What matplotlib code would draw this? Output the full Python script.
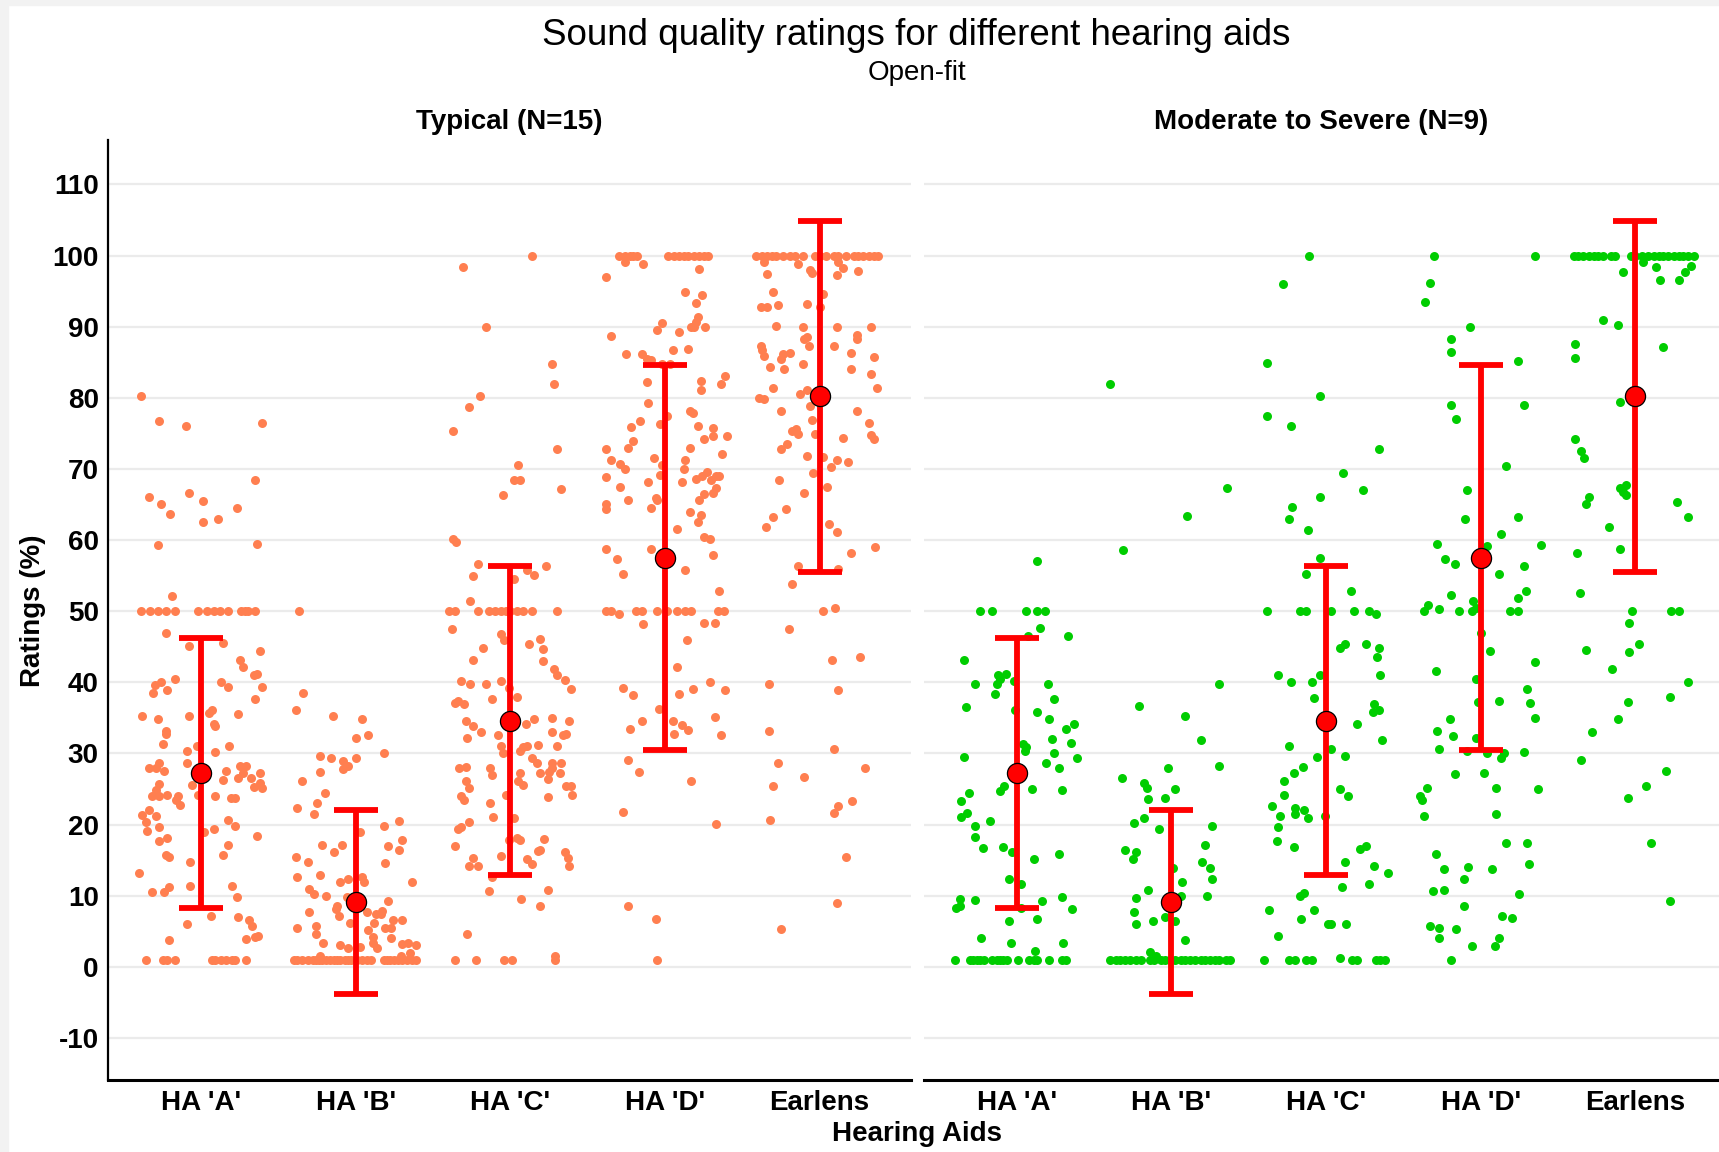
import numpy as np
import matplotlib.pyplot as plt
from matplotlib.patches import Rectangle

plt.rcParams['font.family'] = ['Liberation Sans', 'DejaVu Sans']

aids = ["HA 'A'", "HA 'B'", "HA 'C'", "HA 'D'", "Earlens"]
panels = ["Typical (N=15)", "Moderate to Severe (N=9)"]

# summary (same in both panels)
means = [27.2, 9.1, 34.6, 57.5, 80.2]
lower = [8.3, -3.8, 12.9, 30.5, 55.5]
upper = [46.2, 22.0, 56.3, 84.6, 104.9]

# individual ratings: (jitter, rating)
typ_A = [(-0.39, 80.3), (-0.27, 76.7), (-0.10, 76.1), (0.39, 76.4), (0.35, 68.5), (-0.34, 66.1),
         (-0.26, 65.1), (-0.08, 66.6), (0.01, 65.5), (-0.20, 63.7), (0.01, 62.6), (0.11, 62.9),
         (0.23, 64.5), (-0.28, 59.3), (0.36, 59.5), (-0.19, 52.2),
         (-0.39, 50), (-0.33, 50), (-0.28, 50), (-0.23, 50), (-0.17, 50), (-0.02, 50), (0.04, 50),
         (0.08, 50), (0.12, 50), (0.17, 50), (0.26, 50), (0.28, 50), (0.30, 50), (0.35, 50),
         (-0.23, 46.9), (-0.08, 45.1), (0.14, 45.6), (0.38, 44.4), (0.25, 43.2), (0.27, 42.1),
         (0.34, 41.0), (0.36, 41.2), (-0.17, 40.5), (-0.31, 38.5), (-0.30, 39.6), (-0.26, 40.1),
         (-0.22, 38.9), (0.13, 40.0), (0.17, 39.3), (0.39, 39.3), (0.35, 37.7), (-0.38, 35.3),
         (-0.28, 34.8), (-0.08, 35.3), (0.05, 35.7), (0.07, 36.1), (0.24, 35.6), (-0.23, 33.1),
         (-0.23, 32.7), (0.08, 34.2), (0.09, 33.8), (-0.25, 31.4), (-0.03, 31.1), (-0.09, 30.4),
         (0.09, 30.2), (0.18, 31.0), (-0.34, 27.9), (-0.29, 27.9), (-0.24, 27.5), (-0.27, 28.7),
         (-0.09, 28.6), (0.16, 27.6), (0.25, 28.3), (0.29, 28.3), (0.27, 27.3), (0.24, 26.5),
         (0.32, 26.5), (0.38, 27.2), (0.14, 26.3), (-0.06, 25.6), (-0.27, 25.7), (-0.29, 24.8),
         (-0.32, 24.0), (-0.27, 24.0), (-0.22, 24.2), (-0.15, 24.0), (-0.16, 23.4), (-0.14, 22.8),
         (-0.02, 24.2), (0.09, 24.0), (0.19, 23.8), (0.22, 23.7), (0.34, 25.3), (0.39, 25.1),
         (0.38, 25.8), (-0.34, 22.0), (-0.38, 21.3), (-0.36, 20.3), (-0.29, 21.2), (-0.35, 19.1),
         (-0.27, 19.6), (-0.27, 17.7), (-0.22, 18.1), (0.02, 18.9), (0.08, 19.4), (0.17, 20.7),
         (0.22, 19.8), (0.17, 17.2), (-0.23, 15.7), (-0.21, 15.5), (0.14, 15.7), (-0.07, 14.7),
         (0.36, 18.4), (-0.40, 13.2), (-0.32, 10.5), (-0.24, 10.5), (-0.21, 11.3), (-0.07, 11.4),
         (0.20, 11.4), (0.23, 9.8), (-0.09, 6.1), (0.06, 7.2), (0.24, 7.0), (0.31, 6.6),
         (0.33, 5.7), (-0.21, 3.8), (0.29, 3.9), (0.35, 4.2), (0.37, 4.4),
         (-0.36, 1), (-0.25, 1), (-0.22, 1), (-0.17, 1), (0.07, 1), (0.09, 1), (0.13, 1),
         (0.16, 1), (0.20, 1), (0.22, 1), (0.29, 1)]

typ_B = [(-0.37, 50), (-0.34, 38.5), (-0.39, 36.1), (-0.15, 35.3), (0.04, 34.8), (0.0, 32.2),
         (0.08, 32.6), (0.18, 30.0), (-0.23, 29.6), (-0.16, 29.3), (-0.08, 28.9), (-0.05, 28.2),
         (-0.08, 27.8), (0.0, 29.4), (-0.23, 27.4), (-0.35, 26.1), (-0.20, 24.4), (-0.25, 23.1),
         (-0.38, 22.4), (-0.27, 21.5), (0.18, 19.8), (0.28, 20.5), (0.03, 19.0), (0.30, 17.9),
         (-0.22, 17.2), (-0.09, 17.2), (0.21, 17.0), (-0.14, 16.1), (0.28, 16.5), (-0.39, 15.5),
         (-0.31, 14.8), (0.19, 14.6), (-0.23, 12.9), (-0.38, 12.7), (-0.10, 12.0), (-0.05, 12.4),
         (0.04, 12.6), (0.05, 12.0), (0.36, 12.0), (-0.30, 11.0), (-0.27, 10.2), (-0.19, 10.0),
         (-0.06, 9.8), (0.21, 9.3), (-0.12, 8.5), (-0.13, 8.1), (-0.11, 7.2), (0.07, 7.7),
         (0.13, 7.4), (0.17, 7.9), (0.16, 7.5), (-0.30, 7.7), (-0.04, 6.2), (0.12, 6.2),
         (0.24, 6.6), (0.30, 6.6), (-0.38, 5.4), (-0.26, 5.8), (0.08, 5.2), (0.19, 5.4),
         (0.23, 5.4), (-0.26, 4.6), (0.11, 4.2), (0.23, 4.0), (-0.21, 3.3), (-0.10, 3.1),
         (-0.05, 2.7), (0.03, 2.8), (0.11, 3.4), (0.14, 2.6), (0.30, 3.2), (0.34, 3.3),
         (0.39, 3.1), (0.35, 2.0), (-0.23, 1.6), (0.29, 1.6),
         (-0.40, 1), (-0.38, 1), (-0.35, 1), (-0.31, 1), (-0.28, 1), (-0.26, 1), (-0.24, 1),
         (-0.22, 1), (-0.19, 1), (-0.17, 1), (-0.14, 1), (-0.12, 1), (-0.10, 1), (-0.07, 1),
         (-0.05, 1), (-0.03, 1), (0.01, 1), (0.04, 1), (0.07, 1), (0.10, 1), (0.18, 1),
         (0.20, 1), (0.22, 1), (0.25, 1), (0.27, 1), (0.30, 1), (0.33, 1), (0.36, 1), (0.39, 1)]

typ_C = [(-0.31, 98.4), (0.14, 100), (-0.16, 90.0), (0.27, 84.7), (0.28, 81.9), (-0.20, 80.3),
         (-0.27, 78.7), (-0.37, 75.4), (0.30, 72.8), (0.05, 70.5), (0.02, 68.4), (0.06, 68.5),
         (-0.05, 66.3), (0.33, 67.2), (-0.37, 60.1), (-0.35, 59.8), (-0.21, 56.6), (-0.24, 54.9),
         (0.23, 56.4), (0.11, 55.8), (0.15, 55.1), (0.02, 54.6), (-0.26, 51.5),
         (-0.40, 50), (-0.36, 50), (-0.21, 50), (-0.14, 50), (-0.10, 50), (-0.06, 50),
         (-0.03, 50), (0.0, 50), (0.04, 50), (0.08, 50), (0.14, 50), (0.30, 50),
         (-0.38, 47.5), (-0.06, 46.8), (-0.04, 46.0), (0.19, 46.1), (-0.18, 44.9), (0.12, 45.4),
         (0.21, 44.7), (-0.24, 43.2), (0.21, 43.0), (0.28, 41.9), (0.30, 41.0), (0.35, 40.3),
         (0.39, 39.1), (-0.32, 40.2), (-0.26, 39.7), (-0.16, 39.8), (-0.06, 40.2), (-0.01, 39.2),
         (-0.12, 37.7), (0.04, 38.0), (-0.36, 37.1), (-0.34, 37.4), (-0.30, 36.9), (-0.29, 34.5),
         (-0.24, 33.8), (-0.19, 33.0), (-0.28, 32.2), (-0.08, 32.6), (0.10, 34.2), (0.15, 34.9),
         (0.27, 35.0), (0.27, 33.0), (0.34, 32.6), (0.36, 32.8), (0.38, 34.6), (-0.06, 31.1),
         (-0.05, 30.1), (0.06, 30.3), (0.08, 30.9), (0.11, 31.1), (0.18, 31.2), (0.30, 31.1),
         (0.14, 29.3), (0.17, 28.6), (0.19, 27.3), (0.27, 28.7), (0.27, 27.9), (0.25, 27.4),
         (0.33, 28.6), (0.32, 27.3), (-0.33, 27.9), (-0.29, 28.1), (-0.13, 27.9), (-0.12, 27.0),
         (0.06, 27.2), (-0.29, 26.1), (-0.27, 25.1), (0.05, 26.2), (0.08, 25.6), (0.24, 26.4),
         (0.36, 25.4), (0.39, 25.4), (0.40, 24.2), (-0.32, 24.0), (-0.30, 23.5), (-0.03, 24.2),
         (0.24, 23.9), (-0.13, 23.0), (-0.11, 21.1), (0.02, 20.9), (-0.27, 20.3), (-0.34, 19.4),
         (-0.32, 19.6), (-0.01, 17.8), (0.04, 18.1), (0.06, 17.9), (0.22, 18.0), (-0.36, 17.0),
         (-0.06, 15.6), (-0.24, 15.3), (0.18, 16.3), (0.19, 16.4), (0.35, 16.1), (0.37, 15.3),
         (-0.27, 14.2), (-0.21, 14.2), (0.11, 15.2), (0.14, 14.5), (0.38, 14.2), (-0.12, 12.6),
         (-0.14, 10.7), (0.07, 9.6), (0.24, 10.8), (0.19, 8.6), (-0.28, 4.6), (0.29, 1.6),
         (-0.36, 1), (-0.22, 1), (-0.04, 1), (0.01, 1), (0.29, 1)]

typ_D = [(-0.30, 100), (-0.26, 100), (-0.23, 100), (-0.21, 100), (-0.18, 100), (0.02, 100),
         (0.06, 100), (0.09, 100), (0.12, 100), (0.15, 100), (0.19, 100), (0.22, 100),
         (0.25, 100), (0.28, 100), (-0.26, 99.1), (-0.14, 98.8), (0.22, 98.1), (-0.38, 97.0),
         (0.13, 94.9), (0.24, 94.5), (0.20, 93.4), (0.21, 91.3), (0.20, 90.6), (-0.02, 90.5),
         (-0.05, 89.6), (0.17, 89.9), (0.19, 90.0), (0.26, 89.9), (0.09, 89.2), (-0.35, 88.7),
         (0.15, 86.9), (0.05, 86.7), (-0.25, 86.1), (-0.15, 86.1), (-0.12, 85.5), (-0.09, 85.3),
         (-0.02, 84.7), (0.03, 84.7), (-0.12, 82.2), (0.23, 82.3), (0.23, 81.1), (0.36, 82.0),
         (0.39, 83.0), (-0.11, 79.3), (0.01, 77.4), (0.16, 78.2), (0.18, 77.9), (-0.16, 76.7),
         (-0.22, 75.9), (-0.03, 76.3), (0.21, 76.0), (0.31, 75.7), (0.31, 74.6), (0.25, 74.2),
         (0.40, 74.6), (-0.21, 74.0), (-0.24, 73.0), (-0.38, 72.8), (0.16, 73.0), (-0.07, 71.6),
         (0.37, 72.1), (-0.35, 71.2), (-0.29, 70.7), (-0.26, 70.0), (0.13, 71.3), (0.12, 70.0),
         (-0.02, 70.5), (-0.38, 68.9), (-0.03, 69.1), (0.27, 69.6), (0.24, 69.0), (0.20, 68.6),
         (0.33, 69.0), (0.35, 69.0), (0.30, 68.5), (-0.29, 67.5), (-0.11, 68.1), (0.11, 68.1),
         (0.33, 67.3), (0.31, 66.6), (0.25, 66.5), (0.22, 65.7), (-0.38, 65.1), (-0.38, 64.4),
         (-0.24, 65.7), (-0.06, 65.9), (-0.05, 65.7), (-0.09, 64.5), (0.16, 64.0), (0.23, 63.5),
         (0.21, 62.5), (0.08, 61.6), (0.25, 60.5), (0.29, 60.1), (-0.38, 58.8), (-0.09, 58.8),
         (-0.31, 57.4), (-0.27, 55.2), (0.13, 55.8), (0.31, 57.9), (0.35, 52.9),
         (-0.38, 50), (-0.35, 50), (-0.19, 50), (-0.15, 50), (-0.05, 50), (0.01, 50),
         (0.08, 50), (0.13, 50), (0.17, 50), (0.34, 50), (0.38, 50), (-0.30, 49.6),
         (-0.14, 48.2), (0.25, 48.4), (0.32, 48.4), (0.14, 46.0), (0.08, 42.1), (-0.27, 39.2),
         (-0.21, 38.2), (0.09, 38.4), (0.18, 39.1), (0.29, 40.0), (0.39, 38.9), (-0.04, 36.3),
         (-0.23, 33.4), (-0.15, 34.6), (0.05, 34.6), (0.11, 34.0), (0.15, 33.3), (0.06, 32.8),
         (0.32, 35.2), (0.36, 32.6), (-0.24, 29.1), (-0.17, 27.4), (0.17, 26.1), (-0.27, 21.8),
         (0.33, 20.1), (-0.24, 8.6), (-0.06, 6.8), (-0.05, 1)]

typ_E = [(-0.41, 100), (-0.37, 100), (-0.34, 100), (-0.31, 100), (-0.28, 100), (-0.24, 100),
         (-0.19, 100), (-0.16, 100), (-0.11, 100), (-0.03, 100), (0.0, 100), (0.04, 100),
         (0.09, 100), (0.12, 100), (0.17, 100), (0.22, 100), (0.25, 100), (0.28, 100),
         (0.32, 100), (0.35, 100), (0.38, 100),
         (-0.36, 99.1), (-0.14, 98.8), (0.12, 99.1), (0.15, 98.3), (-0.06, 98.0), (-0.05, 97.5),
         (-0.34, 97.4), (0.11, 97.3), (0.25, 97.8), (0.02, 94.6), (-0.30, 94.9), (-0.27, 93.0),
         (-0.08, 93.2), (-0.38, 92.7), (-0.34, 92.7), (0.0, 92.7), (-0.28, 90.1), (-0.11, 89.9),
         (0.11, 89.9), (0.33, 89.9), (0.24, 88.9), (0.24, 88.2), (-0.10, 88.2), (-0.08, 88.6),
         (-0.07, 87.3), (0.09, 87.3), (-0.38, 87.3), (-0.37, 86.7), (-0.36, 85.9), (-0.24, 86.1),
         (-0.25, 85.4), (-0.19, 86.3), (0.20, 86.3), (0.35, 85.8), (-0.11, 84.7), (-0.32, 84.4),
         (-0.23, 84.0), (0.20, 84.0), (0.33, 83.3), (-0.30, 81.4), (0.37, 81.4), (-0.08, 81.1),
         (-0.13, 80.6), (-0.39, 80.0), (-0.36, 79.8), (-0.06, 78.8), (-0.25, 78.1), (0.24, 78.2),
         (-0.05, 76.9), (0.32, 76.4), (-0.18, 75.4), (-0.15, 75.6), (-0.14, 74.9), (-0.03, 74.9),
         (0.33, 74.8), (0.35, 74.2), (0.15, 74.3), (-0.21, 73.5), (-0.25, 72.8), (-0.08, 71.8),
         (0.02, 71.7), (0.11, 71.2), (0.18, 71.0), (0.07, 70.3), (-0.04, 69.4), (-0.26, 68.4),
         (0.05, 67.5), (-0.10, 66.6), (-0.22, 64.4), (-0.30, 63.2), (-0.35, 61.8), (0.06, 62.2),
         (0.11, 61.1), (0.36, 59.0), (0.20, 58.2), (-0.14, 56.4), (0.12, 56.0), (-0.18, 53.8),
         (0.02, 50.0), (0.10, 50.4), (-0.20, 47.5), (0.08, 43.2), (0.26, 43.5), (-0.33, 39.8),
         (0.12, 38.9), (-0.33, 33.2), (0.09, 30.6), (-0.27, 28.7), (-0.10, 26.7), (0.29, 27.9),
         (-0.30, 25.4), (-0.32, 20.7), (0.09, 21.6), (0.12, 22.6), (0.21, 23.3), (0.17, 15.5),
         (0.11, 9.0), (-0.25, 5.3)]

mod_A = [(0.13, 57.1), (-0.24, 50), (-0.16, 50), (0.06, 50), (0.13, 50), (0.18, 50),
         (0.15, 47.6), (0.07, 46.5), (0.33, 46.5), (-0.34, 43.2), (-0.12, 41.0), (-0.11, 40.5),
         (-0.07, 41.2), (-0.13, 39.8), (-0.14, 38.4), (-0.02, 40.2), (-0.27, 39.8), (0.20, 39.8),
         (0.24, 37.7), (-0.33, 36.5), (-0.01, 36.1), (0.13, 35.8), (0.21, 34.9), (0.32, 33.5),
         (0.37, 34.1), (0.35, 31.5), (0.23, 32.1), (0.04, 31.4), (0.06, 30.9), (0.05, 30.4),
         (0.24, 30.1), (0.39, 29.3), (-0.34, 29.5), (0.19, 28.6), (0.27, 27.9), (-0.08, 25.4),
         (-0.11, 24.7), (0.10, 25.0), (0.29, 24.8), (-0.31, 24.4), (-0.36, 23.3), (-0.32, 21.6),
         (-0.36, 21.1), (-0.27, 19.8), (-0.27, 18.3), (-0.17, 20.5), (-0.22, 16.7), (-0.09, 16.8),
         (-0.03, 16.1), (0.27, 15.9), (0.11, 15.2), (-0.05, 12.4), (0.03, 11.7), (-0.37, 9.6),
         (-0.39, 8.3), (-0.37, 8.5), (-0.27, 9.4), (0.29, 9.8), (0.16, 9.3), (0.36, 8.2),
         (0.03, 8.3), (-0.05, 6.5), (0.13, 6.8), (-0.23, 4.0), (-0.04, 3.3), (0.30, 3.4),
         (0.12, 2.3),
         (-0.40, 1), (-0.30, 1), (-0.28, 1), (-0.26, 1), (-0.24, 1), (-0.21, 1), (-0.16, 1),
         (-0.13, 1), (-0.11, 1), (-0.09, 1), (-0.06, 1), (0.01, 1), (0.08, 1), (0.11, 1),
         (0.13, 1), (0.21, 1), (0.29, 1), (0.32, 1)]

mod_B = [(-0.40, 82.0), (-0.31, 58.6), (0.10, 63.4), (0.36, 67.3), (-0.21, 36.7), (0.09, 35.3),
         (0.31, 39.7), (0.19, 31.9), (0.31, 28.3), (-0.02, 27.9), (-0.32, 26.5), (-0.18, 25.9),
         (-0.16, 25.1), (-0.15, 23.6), (0.02, 25.0), (-0.04, 23.8), (-0.24, 20.2), (-0.18, 20.9),
         (-0.08, 19.4), (0.26, 19.8), (0.22, 17.2), (-0.30, 16.4), (-0.23, 16.1), (-0.25, 15.2),
         (0.20, 14.7), (0.25, 13.9), (0.26, 12.4), (0.01, 13.9), (0.07, 12.0), (-0.15, 10.8),
         (0.06, 10.0), (0.23, 10.0), (-0.23, 9.7), (-0.24, 7.7), (-0.23, 6.1), (-0.04, 7.0),
         (0.02, 6.5), (-0.12, 6.4), (0.09, 3.8), (-0.14, 2.1), (-0.10, 1.5),
         (-0.40, 1), (-0.36, 1), (-0.33, 1), (-0.30, 1), (-0.27, 1), (-0.23, 1), (-0.20, 1),
         (-0.14, 1), (-0.11, 1), (-0.07, 1), (-0.04, 1), (-0.01, 1), (0.02, 1), (0.06, 1),
         (0.09, 1), (0.12, 1), (0.15, 1), (0.19, 1), (0.22, 1), (0.25, 1), (0.28, 1),
         (0.31, 1), (0.35, 1), (0.38, 1)]

mod_C = [(-0.11, 100), (-0.28, 96.0), (-0.38, 84.9), (-0.38, 77.5), (-0.23, 76.1), (-0.04, 80.3),
         (-0.04, 66.1), (-0.22, 64.7), (-0.24, 62.9), (-0.12, 61.4), (-0.04, 57.5), (-0.13, 55.3),
         (-0.38, 50), (-0.17, 50), (-0.13, 50.1), (-0.31, 41.1), (-0.23, 40.0), (-0.09, 40.0),
         (-0.08, 37.8), (-0.04, 41.1), (-0.24, 31.1), (-0.27, 26.2), (-0.21, 27.2), (-0.27, 24.2),
         (-0.15, 28.1), (-0.06, 29.5), (-0.35, 22.6), (-0.30, 21.2), (-0.31, 19.7), (-0.32, 17.7),
         (-0.20, 22.3), (-0.20, 21.5), (-0.14, 22.1), (-0.12, 20.9), (-0.21, 16.8), (-0.17, 10.0),
         (-0.14, 10.4), (-0.08, 8.0), (-0.37, 8.0), (-0.16, 6.8), (-0.31, 4.4),
         (-0.40, 1), (-0.24, 1), (-0.20, 1), (-0.13, 1), (-0.09, 1),
         (0.03, 50), (0.18, 50), (0.28, 50), (0.32, 49.6), (0.16, 52.8), (0.11, 69.5),
         (0.24, 67.0), (0.34, 72.8), (0.09, 44.9), (0.12, 45.4), (0.26, 45.4), (0.34, 44.9),
         (0.33, 43.5), (0.35, 41.0), (0.31, 36.9), (0.30, 35.8), (0.34, 36.1), (0.20, 34.2),
         (0.36, 31.9), (0.03, 30.6), (0.12, 29.6), (0.09, 25.0), (0.14, 24.0), (-0.01, 21.2),
         (0.26, 17.0), (0.22, 16.6), (0.12, 14.7), (0.31, 14.2), (0.40, 13.2), (0.28, 11.6),
         (0.10, 11.3), (0.03, 6.0), (0.01, 6.0), (0.13, 6.1), (0.09, 1.2), (0.17, 1),
         (0.20, 1), (0.32, 1), (0.35, 1), (0.38, 1)]

mod_D = [(-0.30, 100), (0.35, 100), (-0.33, 96.1), (-0.36, 93.5), (-0.07, 89.9), (-0.19, 88.3),
         (-0.19, 86.5), (0.24, 85.2), (-0.19, 79.0), (-0.16, 77.0), (0.28, 79.0), (0.16, 70.4),
         (-0.09, 67.0), (-0.10, 62.9), (0.24, 63.2), (0.13, 60.8), (-0.28, 59.5), (-0.23, 57.4),
         (-0.17, 56.7), (0.04, 59.1), (0.39, 59.3), (0.12, 55.3), (0.28, 56.4), (-0.19, 52.3),
         (-0.34, 50.9), (-0.37, 50), (-0.27, 50.3), (-0.14, 50), (-0.06, 50), (-0.05, 51.4),
         (-0.03, 50.5), (0.19, 50), (0.24, 50), (0.29, 52.9), (0.24, 51.9), (0.0, 47.0),
         (0.06, 44.4), (0.35, 42.8), (-0.29, 41.6), (-0.03, 40.5), (0.30, 39.1), (0.32, 37.1),
         (0.12, 37.4), (-0.02, 37.3), (0.35, 35.0), (-0.20, 34.9), (-0.28, 33.2), (-0.27, 30.6),
         (-0.18, 32.4), (-0.03, 32.2), (-0.09, 30.4), (0.04, 30.1), (0.13, 29.3), (0.15, 30.0),
         (0.28, 30.2), (-0.17, 27.1), (0.02, 27.2), (-0.39, 24.0), (-0.38, 23.5), (-0.35, 25.1),
         (-0.37, 21.2), (0.10, 25.1), (0.37, 25.0), (0.10, 21.5), (0.16, 17.4), (0.30, 17.4),
         (-0.29, 15.9), (-0.24, 13.7), (-0.08, 14.0), (-0.11, 12.4), (0.07, 13.7), (0.31, 14.4),
         (-0.31, 10.7), (-0.24, 10.8), (0.25, 10.3), (-0.11, 8.5), (0.14, 7.2), (0.20, 6.9),
         (-0.33, 5.8), (-0.27, 5.4), (-0.27, 4.0), (-0.16, 5.3), (0.12, 4.1), (-0.06, 3.0),
         (0.09, 3.0), (-0.19, 1)]

mod_E = [(-0.40, 100), (-0.37, 100), (-0.34, 100), (-0.30, 100), (-0.27, 100), (-0.24, 100),
         (-0.21, 100), (-0.16, 100), (-0.13, 100), (-0.03, 100), (0.0, 100), (0.04, 100),
         (0.08, 100), (0.12, 100), (0.15, 100), (0.18, 100), (0.21, 100), (0.25, 100),
         (0.28, 100), (0.31, 100), (0.34, 100), (0.38, 100),
         (0.05, 99.1), (0.13, 98.4), (0.36, 98.6), (0.32, 97.7), (-0.08, 97.7), (0.16, 96.5),
         (0.28, 96.5), (-0.21, 91.0), (-0.11, 90.2), (-0.39, 87.5), (-0.39, 85.6), (0.18, 87.1),
         (-0.10, 79.4), (-0.39, 74.2), (-0.35, 72.5), (-0.33, 71.6), (-0.10, 67.3), (-0.08, 66.8),
         (-0.06, 67.8), (-0.06, 66.3), (-0.30, 66.1), (-0.32, 65.1), (0.27, 65.3), (0.34, 63.3),
         (-0.17, 61.8), (-0.10, 58.8), (-0.38, 58.2), (-0.36, 52.5), (-0.02, 50), (0.23, 50),
         (0.28, 50), (-0.04, 48.4), (-0.32, 44.5), (0.02, 45.4), (-0.04, 44.2), (-0.15, 41.9),
         (0.34, 40.1), (0.22, 37.9), (-0.05, 37.2), (-0.11, 34.8), (-0.28, 33.0), (-0.35, 29.1),
         (0.20, 27.5), (0.07, 25.4), (-0.05, 23.7), (0.10, 17.4), (0.22, 9.3)]

typical = [typ_A, typ_B, typ_C, typ_D, typ_E]
moderate = [mod_A, mod_B, mod_C, mod_D, mod_E]
point_colors = ['#FF7F50', '#00CD00']

fig = plt.figure(figsize=(17.19, 11.52), dpi=100)
fig.patches.append(Rectangle((0, 0.9955), 1, 0.0045, transform=fig.transFigure,
                             color='#F2F2F2', zorder=0))
fig.patches.append(Rectangle((0, 0), 0.0045, 1, transform=fig.transFigure,
                             color='#F2F2F2', zorder=0))

ax1 = fig.add_axes([0.0631, 0.0625, 0.4668, 0.8157])
ax2 = fig.add_axes([0.5375, 0.0625, 0.4625, 0.8157])

xpos = np.arange(1, len(aids) + 1)
yerr = [np.array(means) - np.array(lower), np.array(upper) - np.array(means)]

fs = 20
for ax, groups, col, label in [(ax1, typical, point_colors[0], panels[0]),
                               (ax2, moderate, point_colors[1], panels[1])]:
    for i, grp in enumerate(groups):
        g = np.array(grp)
        ax.scatter(xpos[i] + g[:, 0], g[:, 1], s=42, color=col, linewidths=0, zorder=2)
    ax.errorbar(xpos, means, yerr=yerr, fmt='none', ecolor='red', elinewidth=4.2,
                capsize=16, capthick=4.2, zorder=3)
    ax.scatter(xpos, means, s=210, color='red', edgecolors='black', linewidths=0.9, zorder=4)
    ax.set_ylim(-15.9, 116.2)
    ax.set_yticks(np.arange(-10, 111, 10))
    ax.set_xticks(xpos)
    ax.set_xticklabels(aids, fontsize=fs, fontweight='bold')
    ax.grid(axis='y', color='#EBEBEB', linewidth=1.6, zorder=0)
    ax.set_axisbelow(True)
    ax.tick_params(length=0, pad=7)
    for s in ['top', 'right']:
        ax.spines[s].set_visible(False)
    ax.spines['bottom'].set_linewidth(2.2)
    ax.set_title(label, fontsize=fs, fontweight='bold', pad=8)

ax1.set_xlim(0.4, 5.59)
ax2.set_xlim(0.4, 5.54)
ax1.spines['left'].set_linewidth(1.6)
ax2.spines['left'].set_visible(False)
ax1.set_yticklabels([str(v) for v in range(-10, 111, 10)], fontsize=fs, fontweight='bold')
ax2.set_yticklabels([])

fig.text(0.0192, 0.470, 'Ratings (%)', rotation=90, ha='center', va='center',
         fontsize=fs, fontweight='bold')
fig.text(0.5332, 0.0159, 'Hearing Aids', ha='center', va='center', fontsize=fs, fontweight='bold')
fig.text(0.5332, 0.9692, 'Sound quality ratings for different hearing aids',
         ha='center', va='center', fontsize=26.5)
fig.text(0.5332, 0.9362, 'Open-fit', ha='center', va='center', fontsize=fs)

fig.savefig('out.png', dpi=100)
